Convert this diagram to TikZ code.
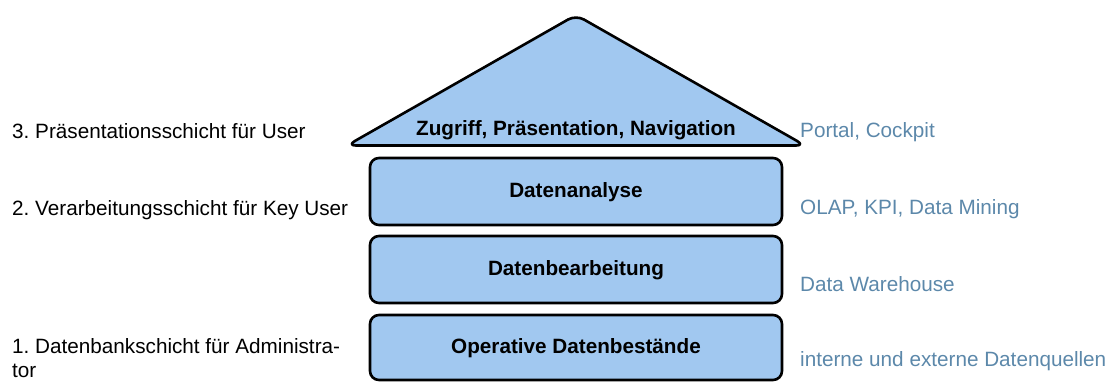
\documentclass[tikz,border=0pt]{standalone}
\usepackage{fontspec}
\setmainfont{Liberation Sans}
\frenchspacing
\definecolor{layerfill}{RGB}{161,200,240}
\definecolor{notecol}{RGB}{92,136,170}
\tikzset{
  layer/.style={draw=black, line width=2.6pt, fill=layerfill, rounded corners=9pt},
  ltext/.style={font=\fontsize{20.7}{24}\selectfont\bfseries, text=black, anchor=base, inner sep=0pt},
  lefttext/.style={font=\fontsize{20.7}{24.5}\selectfont, anchor=base west, align=left, inner sep=0pt},
  righttext/.style={font=\fontsize{20.7}{24}\selectfont, text=notecol, anchor=base west, inner sep=0pt}
}
\begin{document}
\begin{tikzpicture}[x=1pt,y=-1pt]
\useasboundingbox (0,0) rectangle (1112,381);
% roof
\draw[layer, line join=round] (347,145.5) -- (576,15) -- (805,145.5) -- cycle;
\node[ltext] (roof) at (576,135) {Zugriff, Präsentation, Navigation};
% layers
\draw[layer] (370,158) rectangle (782,225);
\node[ltext] (l3) at (576,197) {Datenanalyse};
\draw[layer] (370,236) rectangle (782,303);
\node[ltext] (l2) at (576,275) {Datenbearbeitung};
\draw[layer] (370,315) rectangle (782,380);
\node[ltext] (l1) at (576,353) {Operative Datenbestände};
% left labels
\node[lefttext] (a3) at (12,138.5) {3. Präsentationsschicht für User};
\node[lefttext] (a2) at (12,215) {2. Verarbeitungsschicht für Key User};
\node[lefttext] (a1) at (12,377.5) {1. Datenbankschicht für Administra-\\tor};
% right labels
\node[righttext] (r3) at (800,137) {Portal, Cockpit};
\node[righttext] (r2) at (800,214) {OLAP, KPI, Data Mining};
\node[righttext] (r1) at (800,291) {Data Warehouse};
\node[righttext] (r0) at (800,366) {interne und externe Datenquellen};
\end{tikzpicture}
\end{document}
